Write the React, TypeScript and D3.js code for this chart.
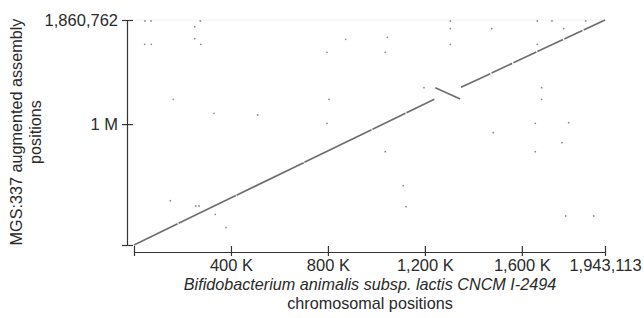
import { useRef, useEffect } from "react";
import * as d3 from "d3";

// axis extents (bp)
const refLength = 1943113;
const qryLength = 1860762;

const xTickValues = [0, 400000, 800000, 1200000, 1600000, 1943113];
const xTickLabels = ["", "400 K", "800 K", "1,200 K", "1,600 K", "1,943,113"];
const yTickValues = [0, 1000000, 1860762];
const yTickLabels = ["", "1 M", "1,860,762"];

// alignment blocks: [ref start, ref end, query start, query end]
const blocks: [number, number, number, number][] = [
  [0, 180000, 0, 175000],
  [184000, 420000, 179000, 409000],
  [423000, 700000, 412000, 681000],
  [703000, 980000, 684000, 953000],
  [984000, 1120000, 957000, 1089000],
  [1124000, 1239000, 1093000, 1205000],
  [1243000, 1346000, 1301000, 1207000],
  [1349000, 1470000, 1304000, 1417000],
  [1475000, 1560000, 1422000, 1502000],
  [1565000, 1660000, 1507000, 1596000],
  [1664000, 1770000, 1600000, 1699000],
  [1775000, 1850000, 1704000, 1774000],
  [1855000, 1943113, 1778000, 1860762],
];

// short spurious matches: [ref, query]
const spots: [number, number][] = [
  [45400, 1852500], [70100, 1852500], [273500, 1852500], [250400, 1805300],
  [250400, 1706000], [44100, 1659800], [71400, 1659800], [275200, 1659800],
  [873400, 1701200], [1045000, 1717700], [796200, 1593600], [1036700, 1593600],
  [162100, 1204900], [804500, 1204900], [330000, 1089100], [510300, 1075100],
  [796200, 1006400], [1304900, 1852500], [1663800, 1852500], [1724400, 1852500],
  [1863500, 1852500], [1304900, 1788800], [1475700, 1788800], [1772700, 1788800],
  [1304900, 1659800], [1663800, 1659800], [1196400, 1300900], [1681900, 1300900],
  [1681900, 1204900], [1655500, 1006400], [1793300, 1011400], [1482300, 928700],
  [1765700, 846000], [1036700, 771600], [1655500, 771600], [1111000, 490400],
  [1122100, 316700], [1781000, 239800], [1896500, 239800], [149800, 366400],
  [254500, 322500], [268200, 322500], [335400, 253800], [379500, 143000],
];

const FONT = "'Liberation Sans', Arial, sans-serif";

export default function App() {
  const ref = useRef<SVGSVGElement>(null);

  useEffect(() => {
    if (!ref.current) return;
    const svg = d3.select(ref.current);
    svg.selectAll("*").remove();

    const x = d3.scaleLinear().domain([0, refLength]).range([134, 605]);
    const y = d3.scaleLinear().domain([0, qryLength]).range([245, 20]);

    // faint frame on top
    svg.append("line")
      .attr("x1", x(0)).attr("x2", x(refLength))
      .attr("y1", y(qryLength)).attr("y2", y(qryLength))
      .attr("stroke", "#f1f1f1").attr("stroke-width", 1);

    // spurious hits
    svg.append("g")
      .selectAll("circle")
      .data(spots)
      .join("circle")
      .attr("cx", (d) => x(d[0]))
      .attr("cy", (d) => y(d[1]))
      .attr("r", 0.9)
      .attr("fill", "#8c8c8c");

    // alignments
    svg.append("g")
      .selectAll("line")
      .data(blocks)
      .join("line")
      .attr("x1", (d) => x(d[0]))
      .attr("x2", (d) => x(d[1]))
      .attr("y1", (d) => y(d[2]))
      .attr("y2", (d) => y(d[3]))
      .attr("stroke", "#6e6e6e")
      .attr("stroke-width", 1.7);

    // x axis
    const gx = svg.append("g")
      .attr("transform", "translate(0,252)")
      .call(
        d3.axisBottom(x)
          .tickValues(xTickValues)
          .tickFormat((_, i) => xTickLabels[i])
          .tickSizeOuter(0)
          .tickSizeInner(4)
          .tickPadding(3)
      );
    gx.selectAll(".tick line").attr("y1", -6).attr("y2", 4);
    gx.select(".domain").attr("stroke", "#333").attr("stroke-width", 1.2);
    gx.selectAll(".tick line").attr("stroke", "#333").attr("stroke-width", 1.2);
    gx.selectAll(".tick text")
      .attr("fill", "#2a2a2a")
      .style("font-family", FONT)
      .style("font-size", "16.5px");

    // y axis
    const gy = svg.append("g")
      .attr("transform", "translate(127,0)")
      .call(
        d3.axisLeft(y)
          .tickValues(yTickValues)
          .tickFormat((_, i) => yTickLabels[i])
          .tickSizeOuter(0)
          .tickSizeInner(5)
          .tickPadding(4)
      );
    gy.selectAll(".tick line").attr("x1", -5).attr("x2", 6);
    gy.select(".domain").attr("stroke", "#333").attr("stroke-width", 1.2);
    gy.selectAll(".tick line").attr("stroke", "#333").attr("stroke-width", 1.2);
    gy.selectAll(".tick text")
      .attr("fill", "#2a2a2a")
      .style("font-family", FONT)
      .style("font-size", "16.5px");

    // titles
    const xt = svg.append("text")
      .attr("text-anchor", "middle")
      .attr("fill", "#2a2a2a")
      .style("font-family", FONT)
      .style("font-size", "16.2px");
    xt.append("tspan").attr("x", 370).attr("y", 290)
      .style("font-style", "italic")
      .text("Bifidobacterium animalis subsp. lactis CNCM I-2494");
    xt.append("tspan").attr("x", 370).attr("y", 308.5)
      .text("chromosomal positions");

    const yt = svg.append("text")
      .attr("text-anchor", "middle")
      .attr("fill", "#2a2a2a")
      .attr("transform", "rotate(-90)")
      .style("font-family", FONT)
      .style("font-size", "16.2px");
    yt.append("tspan").attr("x", -132).attr("y", 22).text("MGS:337 augmented assembly");
    yt.append("tspan").attr("x", -132).attr("y", 41).text("positions");
  }, []);

  return (
    <svg
      ref={ref}
      width={644}
      height={318}
      style={{ position: "absolute", left: 0, top: 0, background: "#fff" }}
    />
  );
}
